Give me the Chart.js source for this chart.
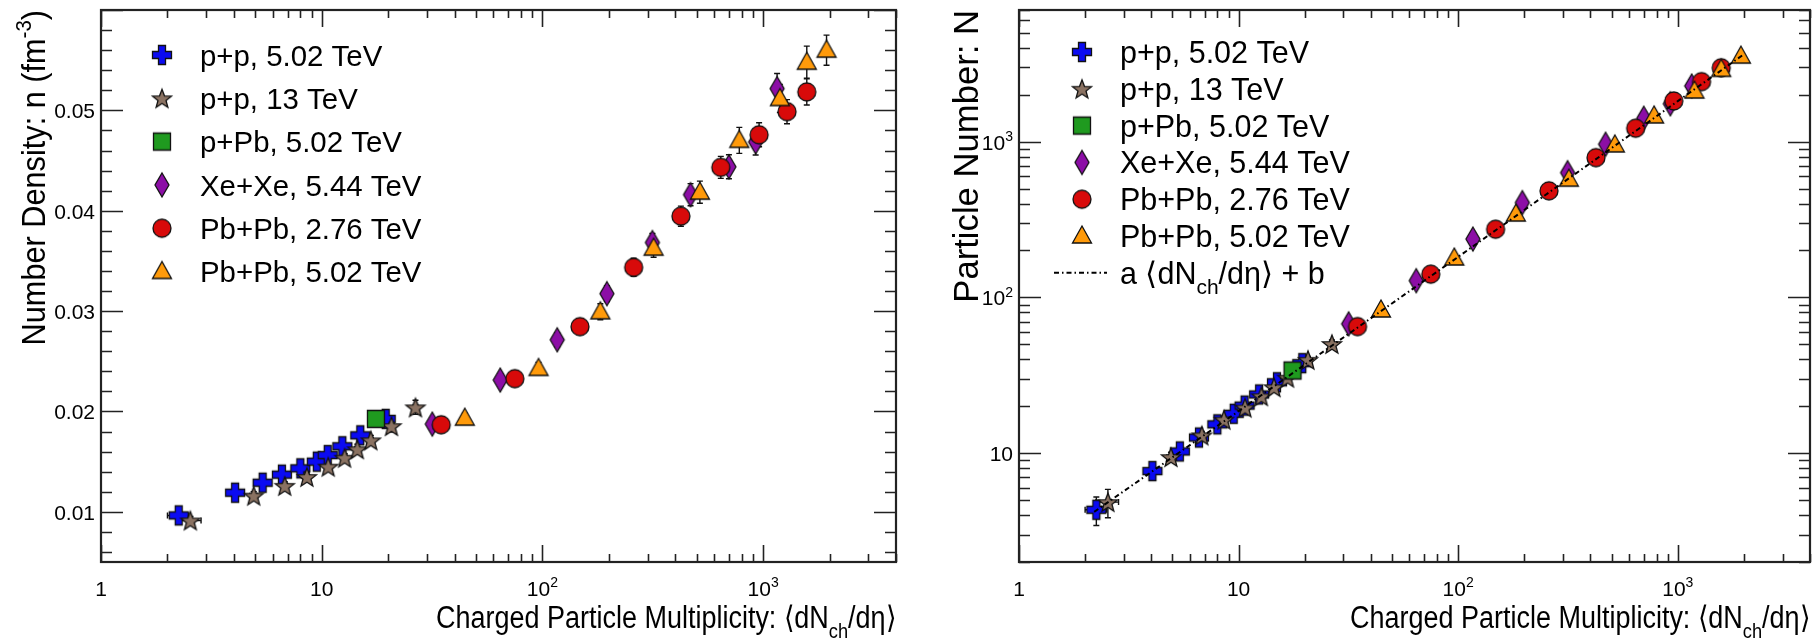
<!DOCTYPE html>
<html>
<head>
<meta charset="utf-8">
<script src="https://cdn.jsdelivr.net/npm/chart.js@4"></script>
<style>
  html, body { margin: 0; padding: 0; background: #fff; }
  #wrap { position: relative; width: 1820px; height: 642px; }
  .panel { position: absolute; top: 0; width: 910px; height: 642px; }
</style>
</head>
<body>
<div id="wrap">
  <div class="panel" style="left:0"><canvas id="density" width="910" height="642"></canvas></div>
  <div class="panel" style="left:910px"><canvas id="number" width="910" height="642"></canvas></div>
</div>
<script>
// <dNch/deta>, number density n (fm^-3) and particle number N per system

// p+p, 5.02 TeV
const ppX      = [2.25, 4.05, 5.4, 6.6, 8.0, 9.5, 10.65, 12.4, 14.95, 19.5];
const ppXErr   = [0.25, 0.15, 0.15, 0.15, 0.2, 0.2, 0.2, 0.25, 0.3, 0.3];
const ppDen    = [0.00964, 0.0119, 0.0129, 0.0137, 0.01433, 0.0150, 0.01565, 0.01653, 0.01762, 0.01926];
const ppDenErr = [0.0003, 0.0003, 0.0003, 0.0003, 0.0003, 0.0003, 0.0003, 0.0003, 0.0004, 0.0004];
const ppN      = [4.33, 7.67, 10.25, 12.6, 15.3, 17.9, 20.2, 23.8, 28.5, 37.8];
const ppNErr   = [0.9, 0.4, 0.4, 0.5, 0.5, 0.6, 0.7, 0.8, 1.0, 1.3];

// p+p, 13 TeV
const pp13X      = [2.54, 4.92, 6.8, 8.57, 10.7, 12.7, 14.5, 16.7, 20.7, 26.6];
const pp13XErr   = [0.3, 0.2, 0.2, 0.25, 0.3, 0.3, 0.35, 0.4, 0.5, 0.6];
const pp13Den    = [0.00914, 0.01161, 0.01259, 0.01348, 0.0145, 0.01539, 0.01624, 0.01712, 0.01854, 0.02041];
const pp13DenErr = [0.0004, 0.0004, 0.0004, 0.0004, 0.0004, 0.0004, 0.0005, 0.0005, 0.0006, 0.0007];
const pp13N      = [4.85, 9.43, 13.0, 16.4, 19.6, 23.2, 26.5, 30.5, 39.7, 50.2];
const pp13NErr   = [1.0, 0.7, 0.8, 0.9, 1.0, 1.2, 1.4, 1.6, 2.0, 3.0];

// p+Pb, 5.02 TeV
const pPbX      = [17.6];
const pPbDen    = [0.01926];
const pPbDenErr = [0.0004];
const pPbN      = [33.9];
const pPbNErr   = [1.2];

// Xe+Xe, 5.44 TeV
const xeX      = [31.7, 64.4, 116.7, 196, 315, 469, 700, 925, 1157];
const xeDen    = [0.01874, 0.02313, 0.02714, 0.03174, 0.03683, 0.0416, 0.04438, 0.04685, 0.05217];
const xeDenErr = [0.0005, 0.0006, 0.0007, 0.0008, 0.0009, 0.0011, 0.0012, 0.0013, 0.0015];
const xeN      = [67.6, 128, 237, 406, 632, 962, 1413, 1750, 2276];
const xeNErr   = [2, 4, 7, 12, 19, 29, 42, 52, 68];

// Pb+Pb, 2.76 TeV
const pb276X      = [34.8, 75, 148, 259, 424, 643, 959, 1283, 1577];
const pb276Den    = [0.01867, 0.02327, 0.02845, 0.03436, 0.03946, 0.04432, 0.04757, 0.04987, 0.05184];
const pb276DenErr = [0.0005, 0.0006, 0.0007, 0.0009, 0.0010, 0.0011, 0.0012, 0.0012, 0.0013];
const pb276N      = [64.9, 141, 274, 483, 789, 1219, 1824, 2427, 2980];
const pb276NErr   = [2, 4, 8, 14, 24, 37, 55, 73, 90];

// Pb+Pb, 5.02 TeV
const pb502X      = [44.5, 96, 183, 319, 517, 780, 1191, 1577, 1938];
const pb502Den    = [0.01933, 0.02429, 0.02993, 0.03627, 0.04185, 0.04701, 0.05118, 0.0548, 0.0560];
const pb502DenErr = [0.0005, 0.0006, 0.0008, 0.0009, 0.0011, 0.0013, 0.0014, 0.0016, 0.0015];
const pb502N      = [83, 179, 343, 574, 953, 1462, 2113, 2911, 3540];
const pb502NErr   = [3, 5, 10, 17, 29, 44, 63, 87, 106];

// linear fit a<dNch/deta> + b, sampled along the drawn line
const fitX = [2.2, 10, 100, 1000, 2000];
const fitY = [4.2, 18.6, 182, 1820, 3640];

// axis ranges and tick labels
const xRange   = [1, 4000];
const denRange = [0.005, 0.06];
const numRange = [2, 7000];
const xTickVals  = [1, 10, 100, 1000];
const xTickText  = [['1', ''], ['10', ''], ['10', '2'], ['10', '3']];
const denTickVals = [0.01, 0.02, 0.03, 0.04, 0.05];
const denTickText = [['0.01', ''], ['0.02', ''], ['0.03', ''], ['0.04', ''], ['0.05', '']];
const numTickVals = [10, 100, 1000];
const numTickText = [['10', ''], ['10', '2'], ['10', '3']];

const FONT = '"Liberation Sans", Arial, Helvetica, sans-serif';

// ROOT-like filled markers with a black outline
function makeMarker(kind, fill) {
  const c = document.createElement('canvas');
  c.width = 28; c.height = 30;
  const g = c.getContext('2d');
  const cx = 14, cy = 15;
  g.fillStyle = fill;
  g.strokeStyle = '#111';
  g.lineWidth = 1.3;
  g.lineJoin = 'miter';
  g.beginPath();
  if (kind === 'cross') {
    const a = 9.5, b = 3.5;
    g.moveTo(cx - b, cy - a); g.lineTo(cx + b, cy - a); g.lineTo(cx + b, cy - b);
    g.lineTo(cx + a, cy - b); g.lineTo(cx + a, cy + b); g.lineTo(cx + b, cy + b);
    g.lineTo(cx + b, cy + a); g.lineTo(cx - b, cy + a); g.lineTo(cx - b, cy + b);
    g.lineTo(cx - a, cy + b); g.lineTo(cx - a, cy - b); g.lineTo(cx - b, cy - b);
  } else if (kind === 'star') {
    for (let i = 0; i < 10; i++) {
      const r = i % 2 ? 4.2 : 10;
      const t = -Math.PI / 2 + i * Math.PI / 5;
      const px = cx + r * Math.cos(t), py = cy + 1 + r * Math.sin(t);
      if (i) g.lineTo(px, py); else g.moveTo(px, py);
    }
  } else if (kind === 'square') {
    g.rect(cx - 8.5, cy - 8.5, 17, 17);
  } else if (kind === 'diamond') {
    g.moveTo(cx, cy - 12); g.lineTo(cx + 7, cy); g.lineTo(cx, cy + 12); g.lineTo(cx - 7, cy);
  } else if (kind === 'circle') {
    g.arc(cx, cy, 9, 0, Math.PI * 2);
  } else if (kind === 'triangle') {
    g.moveTo(cx, cy - 10); g.lineTo(cx + 9.5, cy + 7); g.lineTo(cx - 9.5, cy + 7);
  }
  g.closePath();
  g.fill();
  g.stroke();
  return c;
}

const systems = [
  { label: 'p+p, 5.02 TeV',   marker: makeMarker('cross', '#0b0bf2'),    x: ppX,    xErr: ppXErr,   den: ppDen,    denErr: ppDenErr,    num: ppN,    numErr: ppNErr },
  { label: 'p+p, 13 TeV',     marker: makeMarker('star', '#8a7262'),     x: pp13X,  xErr: pp13XErr, den: pp13Den,  denErr: pp13DenErr,  num: pp13N,  numErr: pp13NErr },
  { label: 'p+Pb, 5.02 TeV',  marker: makeMarker('square', '#1f9a1f'),   x: pPbX,   xErr: null,     den: pPbDen,   denErr: pPbDenErr,   num: pPbN,   numErr: pPbNErr },
  { label: 'Xe+Xe, 5.44 TeV', marker: makeMarker('diamond', '#8c0ea6'),  x: xeX,    xErr: null,     den: xeDen,    denErr: xeDenErr,    num: xeN,    numErr: xeNErr },
  { label: 'Pb+Pb, 2.76 TeV', marker: makeMarker('circle', '#d80a0a'),   x: pb276X, xErr: null,     den: pb276Den, denErr: pb276DenErr, num: pb276N, numErr: pb276NErr },
  { label: 'Pb+Pb, 5.02 TeV', marker: makeMarker('triangle', '#ff9a0a'), x: pb502X, xErr: null,     den: pb502Den, denErr: pb502DenErr, num: pb502N, numErr: pb502NErr }
];

function buildDatasets(key) {
  return systems.map((s, i) => ({
    label: s.label,
    data: s.x.map((v, j) => ({ x: v, y: s[key][j] })),
    yErr: s[key + 'Err'],
    xErr: s.xErr,
    pointStyle: s.marker,
    pointRadius: 9,
    showLine: false,
    order: systems.length - i + 1
  }));
}

// text with an optional superscript part
function drawSup(ctx, base, sup, x, y, align, size) {
  ctx.font = size + 'px ' + FONT;
  const wb = ctx.measureText(base).width;
  ctx.font = Math.round(size * 0.66) + 'px ' + FONT;
  const ws = sup ? ctx.measureText(sup).width : 0;
  const w = wb + ws;
  let x0 = x;
  if (align === 'center') x0 = x - w / 2;
  if (align === 'right') x0 = x - w;
  ctx.textAlign = 'left';
  ctx.textBaseline = 'alphabetic';
  ctx.font = size + 'px ' + FONT;
  ctx.fillText(base, x0, y);
  if (sup) {
    ctx.font = Math.round(size * 0.66) + 'px ' + FONT;
    ctx.fillText(sup, x0 + wb, y - size * 0.42);
  }
}

// rich text runs: [text, 'n'|'sub'|'sup'], hs = horizontal squeeze
function runsWidth(ctx, runs, size, hs) {
  let w = 0;
  for (const [t, k] of runs) {
    ctx.font = (k === 'n' ? size : Math.round(size * 0.68)) + 'px ' + FONT;
    w += ctx.measureText(t).width;
  }
  return w * (hs || 1);
}
function drawRuns(ctx, runs, x, y, size, hs) {
  ctx.save();
  ctx.translate(x, y);
  ctx.scale(hs || 1, 1);
  ctx.textAlign = 'left';
  ctx.textBaseline = 'alphabetic';
  let cx = 0;
  for (const [t, k] of runs) {
    const s = k === 'n' ? size : Math.round(size * 0.68);
    ctx.font = s + 'px ' + FONT;
    const dy = k === 'sub' ? size * 0.32 : k === 'sup' ? -size * 0.42 : 0;
    ctx.fillText(t, cx, dy);
    cx += ctx.measureText(t).width;
  }
  ctx.restore();
}

const xTitle = [['Charged Particle Multiplicity: \u27E8dN', 'n'], ['ch', 'sub'], ['/d\u03B7\u27E9', 'n']];

// frame, inward ticks on all four sides, tick labels and axis titles
const framePlugin = {
  id: 'frame',
  afterDatasetsDraw(chart, args, o) {
    const ctx = chart.ctx;
    const a = chart.chartArea;
    const xs = chart.scales.x, ys = chart.scales.y;
    ctx.save();
    ctx.strokeStyle = '#222';
    ctx.fillStyle = '#000';

    // x ticks (log)
    ctx.lineWidth = 1.6;
    ctx.beginPath();
    for (let d = 1; d <= 1000; d *= 10) {
      for (let k = 1; k <= 9; k++) {
        const v = d * k;
        if (v > xRange[1]) break;
        const px = Math.round(xs.getPixelForValue(v)) + 0.5;
        const len = k === 1 ? 17 : 8;
        ctx.moveTo(px, a.bottom); ctx.lineTo(px, a.bottom - len);
        ctx.moveTo(px, a.top); ctx.lineTo(px, a.top + len);
      }
    }
    // y ticks
    for (const t of o.yMinor) {
      const py = Math.round(ys.getPixelForValue(t.v)) + 0.5;
      const len = t.major ? 22 : 11;
      ctx.moveTo(a.left, py); ctx.lineTo(a.left + len, py);
      ctx.moveTo(a.right, py); ctx.lineTo(a.right - len, py);
    }
    ctx.stroke();

    // frame
    ctx.lineWidth = 2.2;
    ctx.strokeRect(a.left, a.top, a.right - a.left, a.bottom - a.top);

    // tick labels
    xTickVals.forEach((v, i) => {
      drawSup(ctx, xTickText[i][0], xTickText[i][1], xs.getPixelForValue(v), a.bottom + 34, 'center', 21);
    });
    o.yVals.forEach((v, i) => {
      drawSup(ctx, o.yText[i][0], o.yText[i][1], a.left - 6, ys.getPixelForValue(v) + 8, 'right', 21);
    });

    // x title, right aligned to the frame
    const tw = runsWidth(ctx, xTitle, o.xTitleSize, o.xTitleHs);
    drawRuns(ctx, xTitle, a.right - tw, a.bottom + 66, o.xTitleSize, o.xTitleHs);

    // y title, rotated, ending at the top of the frame
    ctx.save();
    ctx.translate(o.yTitleX, a.top);
    ctx.rotate(-Math.PI / 2);
    const yw = runsWidth(ctx, o.yTitle, o.yTitleSize, o.yTitleHs);
    drawRuns(ctx, o.yTitle, -yw, 0, o.yTitleSize, o.yTitleHs);
    ctx.restore();

    ctx.restore();
  }
};

// vertical/horizontal error bars with small end caps
const errorBars = {
  id: 'errorBars',
  beforeDatasetsDraw(chart) {
    const ctx = chart.ctx;
    const xs = chart.scales.x, ys = chart.scales.y;
    ctx.save();
    ctx.strokeStyle = '#111';
    ctx.lineWidth = 1.4;
    ctx.beginPath();
    chart.data.datasets.forEach(ds => {
      if (!ds.yErr) return;
      ds.data.forEach((p, j) => {
        const px = xs.getPixelForValue(p.x);
        const py = ys.getPixelForValue(p.y);
        const e = ds.yErr[j];
        if (e) {
          const y1 = ys.getPixelForValue(p.y + e), y2 = ys.getPixelForValue(p.y - e);
          ctx.moveTo(px, y1); ctx.lineTo(px, y2);
          ctx.moveTo(px - 3, y1); ctx.lineTo(px + 3, y1);
          ctx.moveTo(px - 3, y2); ctx.lineTo(px + 3, y2);
        }
        if (ds.xErr && ds.xErr[j]) {
          const x1 = xs.getPixelForValue(p.x - ds.xErr[j]), x2 = xs.getPixelForValue(p.x + ds.xErr[j]);
          ctx.moveTo(x1, py); ctx.lineTo(x2, py);
          ctx.moveTo(x1, py - 3); ctx.lineTo(x1, py + 3);
          ctx.moveTo(x2, py - 3); ctx.lineTo(x2, py + 3);
        }
      });
    });
    ctx.stroke();
    ctx.restore();
  }
};

// in-frame legend
const legendPlugin = {
  id: 'boxLegend',
  afterDraw(chart, args, o) {
    const ctx = chart.ctx;
    ctx.save();
    ctx.fillStyle = '#000';
    o.items.forEach((it, i) => {
      const y = o.y0 + i * o.dy;
      if (it.marker) {
        ctx.drawImage(it.marker, o.mx - it.marker.width / 2, y - it.marker.height / 2);
      } else {
        ctx.save();
        ctx.strokeStyle = '#000';
        ctx.lineWidth = 2;
        ctx.setLineDash([5, 3, 1.5, 3]);
        ctx.beginPath();
        ctx.moveTo(o.mx - 28, y); ctx.lineTo(o.mx + 25, y);
        ctx.stroke();
        ctx.restore();
      }
      drawRuns(ctx, it.runs, o.tx, y + o.size * 0.36, o.size, o.hs);
    });
    ctx.restore();
  }
};

function makeChart(id, datasets, yType, yRange, plugOpts, legendOpts, pad) {
  return new Chart(document.getElementById(id), {
    type: 'scatter',
    data: { datasets: datasets },
    options: {
      responsive: false,
      animation: false,
      devicePixelRatio: 1,
      layout: { padding: pad },
      scales: {
        x: { type: 'logarithmic', min: xRange[0], max: xRange[1], display: false },
        y: { type: yType, min: yRange[0], max: yRange[1], display: false }
      },
      plugins: {
        legend: { display: false },
        tooltip: { enabled: false },
        frame: plugOpts,
        boxLegend: legendOpts
      }
    },
    plugins: [errorBars, framePlugin, legendPlugin]
  });
}

// minor/major tick positions
const denTicks = [];
for (let i = 3; i <= 30; i++) denTicks.push({ v: i * 0.002, major: i % 5 === 0 });
const numTicks = [];
for (let d = 1; d <= 1000; d *= 10) {
  for (let k = 1; k <= 9; k++) {
    const v = d * k;
    if (v >= numRange[0] && v <= numRange[1]) numTicks.push({ v: v, major: k === 1 });
  }
}

const legendRuns = systems.map(s => ({ marker: s.marker, runs: [[s.label, 'n']] }));

makeChart('density', buildDatasets('den'), 'linear', denRange,
  { yMinor: denTicks, yVals: denTickVals, yText: denTickText, xTitleSize: 31, xTitleHs: 0.87,
    yTitle: [['Number Density: n (fm', 'n'], ['-3', 'sup'], [')', 'n']], yTitleSize: 33, yTitleHs: 0.93, yTitleX: 45 },
  { items: legendRuns, y0: 55, dy: 43.3, mx: 162, tx: 200, size: 30, hs: 0.98 },
  { left: 101, right: 14, top: 9, bottom: 80 });

const numSets = buildDatasets('num');
numSets.push({
  label: 'fit',
  data: fitX.map((v, j) => ({ x: v, y: fitY[j] })),
  showLine: true,
  pointRadius: 0,
  borderColor: '#000',
  borderWidth: 2,
  borderDash: [5, 3, 1.5, 3],
  order: 0
});

makeChart('number', numSets, 'logarithmic', numRange,
  { yMinor: numTicks, yVals: numTickVals, yText: numTickText, xTitleSize: 31, xTitleHs: 0.87,
    yTitle: [['Particle Number: N', 'n']], yTitleSize: 35, yTitleHs: 0.99, yTitleX: 68 },
  { items: legendRuns.concat([{ marker: null, runs: [['a \u27E8dN', 'n'], ['ch', 'sub'], ['/d\u03B7\u27E9 + b', 'n']] }]),
    y0: 52, dy: 36.8, mx: 172, tx: 210, size: 30.5, hs: 1 },
  { left: 109, right: 8, top: 9, bottom: 80 });
</script>
</body>
</html>
